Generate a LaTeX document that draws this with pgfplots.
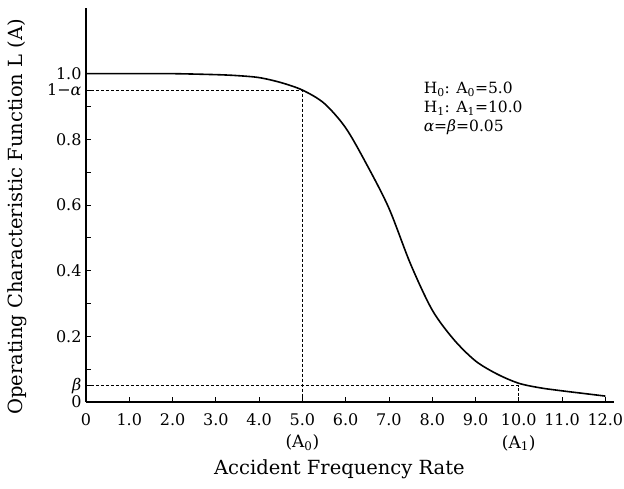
\documentclass[border=0pt]{standalone}
\usepackage{fontspec}
\setmainfont{DejaVu Serif}
\usepackage{pgfplots}
\pgfplotsset{compat=1.18}
\begin{document}
\begin{tikzpicture}
\begin{axis}[
  name=ax,
  scale only axis, width=528pt, height=394pt,
  xmin=0, xmax=12.2, ymin=0, ymax=1.2,
  axis lines=left, axis line style={-, line width=1.1pt},
  tick style={black, line width=0.8pt}, tick align=inside,
  major tick length=5pt, minor tick length=5pt,
  xtick={0,1,2,3,4,5,6,7,8,9,10,11,12},
  xticklabels={0,1.0,2.0,3.0,4.0,5.0,6.0,7.0,8.0,9.0,10.0,11.0,12.0},
  ytick={0,0.05,0.2,0.4,0.6,0.8,0.95,1.0},
  yticklabels={0,\textit{β},0.2,0.4,0.6,0.8,1−\textit{α},1.0},
  minor ytick={0.1,0.3,0.5,0.7,0.9},
  /pgf/number format/assume math mode=true,
  xticklabel style={font=\fontsize{16}{18}\selectfont, yshift=-8pt},
  yticklabel style={font=\fontsize{16}{18}\selectfont, xshift=-1pt},
  xlabel={Accident Frequency Rate},
  ylabel={Operating Characteristic Function L (A)},
  label style={font=\fontsize{19.5}{22}\selectfont},
  xlabel style={at={(axis description cs:0.48,0)}, anchor=center, yshift=-67pt},
  ylabel style={at={(axis description cs:0,0.47)}, anchor=center, rotate=0, yshift=69pt},
  clip=false,
]
\addplot[black, line width=1.6pt, smooth] coordinates {
(0,1.0) (1,1.0) (2,1.0) (3,0.997) (3.5,0.994) (4,0.988) (4.5,0.973) (5,0.95)
(5.5,0.91) (6.0,0.835) (6.5,0.72) (7.0,0.59) (7.5,0.42) (8.0,0.28) (8.5,0.19)
(9.0,0.125) (9.5,0.085) (10,0.057) (10.5,0.043) (11,0.034) (11.5,0.026) (12,0.018)
};
\addplot[black, densely dashed, line width=1pt] coordinates {(0,0.95) (5,0.95) (5,0)};
\addplot[black, densely dashed, line width=1pt] coordinates {(0,0.05) (10,0.05) (10,0)};
\node[font=\fontsize{17}{19}\selectfont] at (axis cs:5,0) [yshift=-41pt] {(A\textsubscript{0})};
\node[font=\fontsize{17}{19}\selectfont] at (axis cs:10,0) [yshift=-41pt] {(A\textsubscript{1})};
\node[font=\fontsize{15.5}{19}\selectfont, anchor=north west, align=left, inner sep=0pt]
  at (axis cs:7.8,0.975) {H\textsubscript{0}: A\textsubscript{0}=5.0\\H\textsubscript{1}: A\textsubscript{1}=10.0\\\textit{α}=\textit{β}=0.05};
\end{axis}
\pgfresetboundingbox
\path[use as bounding box] ([xshift=-86pt,yshift=-87pt]ax.south west) rectangle ([xshift=10pt,yshift=8pt]ax.north east);
\end{tikzpicture}
\end{document}
